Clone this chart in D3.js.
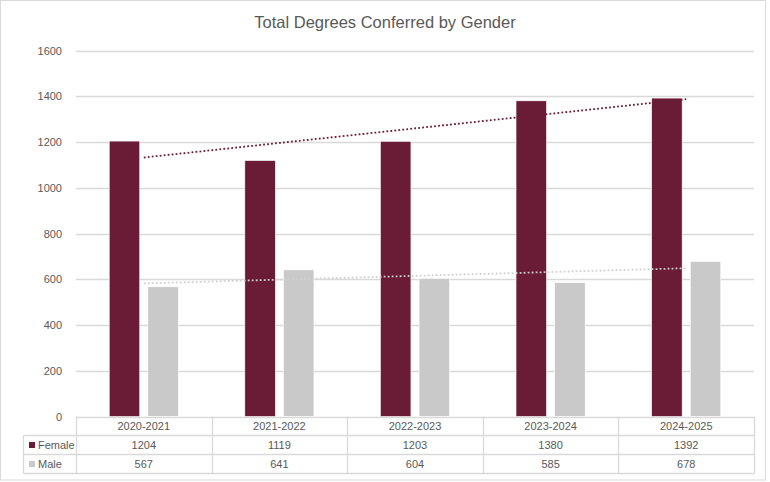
<!DOCTYPE html>
<html>
<head>
<meta charset="utf-8">
<script src="https://cdn.jsdelivr.net/npm/d3@7"></script>
<style>
  html, body { margin: 0; padding: 0; background: #fff; }
  svg text { font-family: "Liberation Sans", Arial, sans-serif; fill: #595959; }
</style>
</head>
<body>
<div id="chart"></div>
<script>
var years = ['2020-2021', '2021-2022', '2022-2023', '2023-2024', '2024-2025'];
var female = [1204, 1119, 1203, 1380, 1392];
var male = [567, 641, 604, 585, 678];
var seriesNames = ['Female', 'Male'];
var seriesColors = ['#6A1B35', '#C9C9C9'];
var trendColors = ['#6A1B35', '#D0D0D0'];
var yTicks = [0, 200, 400, 600, 800, 1000, 1200, 1400, 1600];

var series = [female, male];

var width = 770, height = 482;

var svg = d3.select('#chart')
  .append('svg')
    .attr('width', width)
    .attr('height', height);

// chart border
svg.append('rect')
    .attr('x', 0.5)
    .attr('y', 0.5)
    .attr('width', 765)
    .attr('height', 479.5)
    .attr('fill', '#fff')
    .attr('stroke', '#D9D9D9');

svg.append('text')
    .attr('x', 385)
    .attr('y', 28)
    .attr('text-anchor', 'middle')
    .attr('font-size', '16.5px')
    .text('Total Degrees Conferred by Gender');

var x = d3.scaleBand()
  .domain(years)
  .range([76, 754])
  .paddingInner(0.49)
  .paddingOuter(0.245);

var x1 = d3.scaleBand()
  .domain(seriesNames)
  .range([0, x.bandwidth()])
  .paddingInner(0.21);

var y = d3.scaleLinear()
  .domain([0, 1600])
  .range([416.5, 50.5]);

var plotLeft = x.range()[0], plotRight = x.range()[1];

// gridlines
svg.append('g')
  .selectAll('line')
  .data(yTicks)
  .enter()
  .append('line')
    .attr('x1', plotLeft)
    .attr('x2', plotRight)
    .attr('y1', function (d) { return Math.round(y(d)) + 0.5; })
    .attr('y2', function (d) { return Math.round(y(d)) + 0.5; })
    .attr('stroke', '#D9D9D9')
    .attr('stroke-width', 1.3);

var yAxis = svg.append('g')
    .attr('transform', 'translate(' + (plotLeft - 11) + ',0)')
    .call(d3.axisLeft(y).tickValues(yTicks).tickSize(0).tickFormat(d3.format('d')));
yAxis.select('.domain').remove();
yAxis.selectAll('text')
    .attr('font-size', '11px')
    .attr('font-family', '"Liberation Sans", Arial, sans-serif')
    .attr('fill', '#595959');

// bars
series.forEach(function (vals, si) {
  svg.append('g')
    .selectAll('rect')
    .data(vals)
    .enter()
    .append('rect')
      .attr('x', function (d, i) { return x(years[i]) + x1(seriesNames[si]); })
      .attr('y', function (d) { return y(d); })
      .attr('width', x1.bandwidth())
      .attr('height', function (d) { return y(0) - y(d); })
      .attr('fill', seriesColors[si])
      .attr('stroke', '#fff')
      .attr('stroke-width', 0.6);
});

// linear trendlines
series.forEach(function (vals, si) {
  var xs = vals.map(function (d, i) { return i + 1; });
  var mx = d3.mean(xs), my = d3.mean(vals);
  var num = d3.sum(vals, function (d, i) { return (xs[i] - mx) * (d - my); });
  var den = d3.sum(xs, function (v) { return (v - mx) * (v - mx); });
  var slope = num / den, icpt = my - slope * mx;
  var ends = [0, vals.length - 1];
  svg.append('line')
      .attr('x1', x(years[ends[0]]) + x.bandwidth() / 2)
      .attr('x2', x(years[ends[1]]) + x.bandwidth() / 2)
      .attr('y1', y(icpt + slope * 1))
      .attr('y2', y(icpt + slope * vals.length))
      .attr('stroke', trendColors[si])
      .attr('stroke-width', 1.8)
      .attr('stroke-dasharray', '1.8,2.2');
});

// data table
var rowY = [416.5, 435.5, 454.5, 473.5];
var legendLeft = 23.5;
var table = svg.append('g');
var colEdges = years.map(function (d) { return x(d) - x.step() * x.paddingOuter(); });
colEdges.push(plotRight);

table.selectAll('line.v')
  .data(colEdges)
  .enter()
  .append('line')
    .attr('x1', function (d) { return Math.round(d) + 0.5; })
    .attr('x2', function (d) { return Math.round(d) + 0.5; })
    .attr('y1', rowY[0])
    .attr('y2', rowY[3])
    .attr('stroke', '#D9D9D9')
    .attr('stroke-width', 1.3);

table.append('line')
    .attr('x1', legendLeft).attr('x2', legendLeft)
    .attr('y1', rowY[1]).attr('y2', rowY[3])
    .attr('stroke', '#D9D9D9').attr('stroke-width', 1.3);

table.selectAll('line.h')
  .data(rowY.slice(1))
  .enter()
  .append('line')
    .attr('x1', legendLeft)
    .attr('x2', plotRight)
    .attr('y1', function (d) { return d; })
    .attr('y2', function (d) { return d; })
    .attr('stroke', '#D9D9D9')
    .attr('stroke-width', 1.3);

table.selectAll('text.cat')
  .data(years)
  .enter()
  .append('text')
    .attr('x', function (d) { return x(d) + x.bandwidth() / 2; })
    .attr('y', (rowY[0] + rowY[1]) / 2 + 4)
    .attr('text-anchor', 'middle')
    .attr('font-size', '11px')
    .text(function (d) { return d; });

series.forEach(function (vals, si) {
  var cy = (rowY[si + 1] + rowY[si + 2]) / 2;
  table.append('rect')
      .attr('x', 29)
      .attr('y', cy - 3)
      .attr('width', 6)
      .attr('height', 6)
      .attr('fill', seriesColors[si]);
  table.append('text')
      .attr('x', 38)
      .attr('y', cy + 4)
      .attr('font-size', '11px')
      .text(seriesNames[si]);
  table.selectAll('text.v' + si)
    .data(vals)
    .enter()
    .append('text')
      .attr('x', function (d, i) { return x(years[i]) + x.bandwidth() / 2; })
      .attr('y', cy + 4)
      .attr('text-anchor', 'middle')
      .attr('font-size', '11px')
      .text(function (d) { return d; });
});
</script>
</body>
</html>
